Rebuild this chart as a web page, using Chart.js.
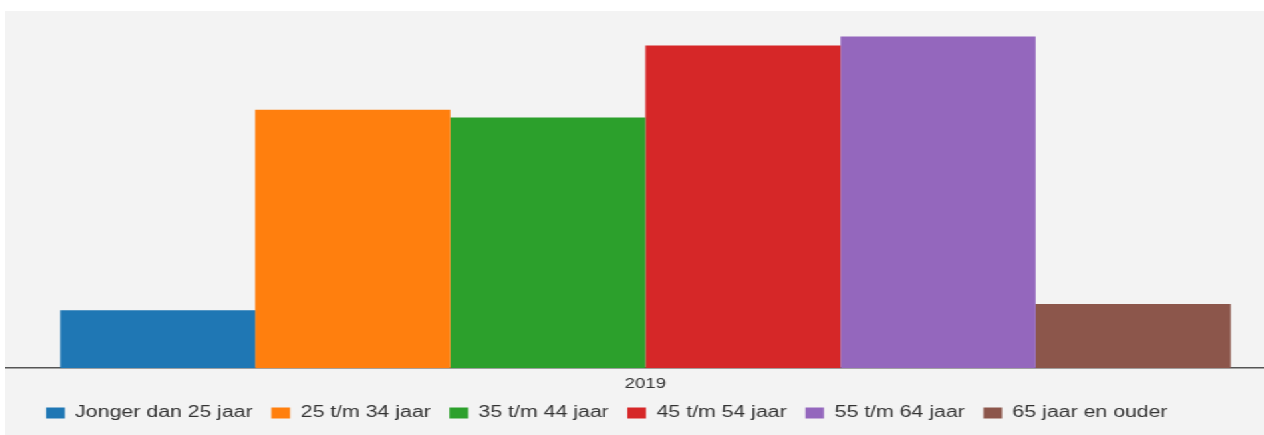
<!DOCTYPE html>
<html>
<head>
<meta charset="utf-8">
<script src="https://cdn.jsdelivr.net/npm/chart.js@4/dist/chart.umd.min.js"></script>
<style>
  html, body { margin: 0; padding: 0; background: #fff; overflow: hidden; }
  /* the reference is horizontally stretched, so the canvas is too */
  .chart-wrap {
    position: absolute;
    left: 5px;
    top: 11px;
    width: 963px;
    height: 424px;
    background: #f3f3f3;
    transform: scaleX(1.33);
    transform-origin: 0 0;
  }
</style>
</head>
<body>
<div class="chart-wrap"><canvas id="leeftijdChart"></canvas></div>
<script>
const categories = ['2019'];
const groepen = ['Jonger dan 25 jaar', '25 t/m 34 jaar', '35 t/m 44 jaar', '45 t/m 54 jaar', '55 t/m 64 jaar', '65 jaar en ouder'];
const aandeel = [4.5, 20.1, 19.5, 25.1, 25.8, 5.0];
const kleuren = ['#1f77b4', '#ff7f0e', '#2ca02c', '#d62728', '#9467bd', '#8c564b'];

// legend sits a bit left of centre and tighter under the axis in the reference
const legendShiftX = -29;
const legendLift = 2;

const shiftLegend = {
  id: 'shiftLegend',
  afterLayout(chart) {
    const lg = chart.legend;
    if (lg) {
      lg.left += legendShiftX;
      lg.right += legendShiftX;
      lg.top -= legendLift;
      lg.bottom -= legendLift;
    }
  }
};

Chart.defaults.font.family = '"Liberation Sans", Arial, sans-serif';
Chart.defaults.color = '#333';

const ctx = document.getElementById('leeftijdChart');
if (ctx) {
  new Chart(ctx, {
    type: 'bar',
    data: {
      labels: categories,
      datasets: groepen.map((naam, i) => ({
        label: naam,
        data: [aandeel[i]],
        backgroundColor: kleuren[i],
        borderWidth: 0,
        categoryPercentage: 0.914,
        barPercentage: 1
      }))
    },
    options: {
      responsive: true,
      maintainAspectRatio: false,
      animation: false,
      layout: { padding: { top: 10, left: 0, right: 0, bottom: 2 } },
      scales: {
        x: {
          grid: { display: false },
          border: { display: true, color: '#555', width: 1.5 },
          ticks: { font: { size: 14 }, color: '#333', padding: 0 }
        },
        y: {
          display: false,
          min: 0,
          max: 27
        }
      },
      plugins: {
        legend: {
          position: 'bottom',
          labels: {
            boxWidth: 14,
            boxHeight: 11,
            padding: 14,
            font: { size: 16 },
            color: '#333'
          }
        },
        tooltip: { enabled: false }
      }
    },
    plugins: [shiftLegend]
  });
}
</script>
</body>
</html>
